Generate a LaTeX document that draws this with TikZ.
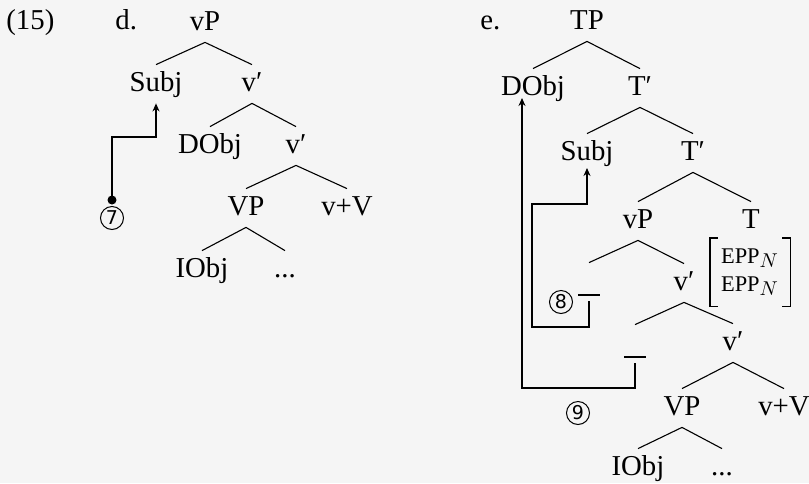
\documentclass[tikz,border=0pt]{standalone}
\usepackage{fontspec}
\setmainfont{Liberation Serif}
\newfontfamily\circfont{DejaVu Sans}
\usetikzlibrary{arrows.meta}
\definecolor{paper}{HTML}{F5F5F5}
% feature EPP with subscript N, small capitals imitated by smaller capitals
\newcommand\eppfeat{{\fontsize{11.2}{12}\selectfont EPP}$_N$}
% the short bar marking a trace position
\newcommand\tracebar{\rule[-3.5pt]{11pt}{1pt}}
\begin{document}
\begin{tikzpicture}[x=0.5pt,y=-0.5pt,
  lab/.style={anchor=base,inner sep=0pt,text height=13pt,text depth=6pt,
    font=\fontsize{14.4}{17}\selectfont},
  plain/.style={inner sep=0pt,font=\fontsize{14.4}{17}\selectfont},
  circ/.style={circle,draw,line width=0.5pt,minimum size=11.5pt,inner sep=0pt,
    font=\circfont\fontsize{9.5}{10}\selectfont},
  branch/.style={line width=0.55pt},
  move/.style={line width=1pt,-{Stealth[length=4pt,width=3.5pt]}},
  bracket/.style={line width=0.9pt}]
\fill[paper] (0,0) rectangle (809,483);
\useasboundingbox (0,0) rectangle (809,483);

% example number and sub-labels
\node[plain,anchor=base west] (exno) at (6,29) {(15)};
\node[plain,anchor=base west] (labd) at (115,29) {d.};
\node[plain,anchor=base west] (labe) at (480,29) {e.};

% tree d
\node[lab] (vPd)   at (205,30)  {vP};
\node[lab] (SubjD) at (156,91)  {Subj};
\node[lab] (vbD1)  at (252,91)  {v′};
\node[lab] (DObjD) at (210,153) {DObj};
\node[lab] (vbD2)  at (296,153) {v′};
\node[lab] (VPD)   at (246,215) {VP};
\node[lab] (vVD)   at (347,215) {v+V};
\node[lab] (IObjD) at (202,277) {IObj};
\node[lab] (dotsD) at (285,277) {...};

\foreach \p/\c in {vPd/SubjD,vPd/vbD1,vbD1/DObjD,vbD1/vbD2,vbD2/VPD,vbD2/vVD,VPD/IObjD,VPD/dotsD}
  \draw[branch] (\p.south) -- (\c.north);

% movement in d
\coordinate (c7) at (112,200);
\fill (c7) circle (2.25pt);
\node[circ] (n7) at (112,218) {7};
\draw[move] (c7) -- ++(0,-63) -| (SubjD.south);

% tree e
\node[lab] (TP)    at (587,29)  {TP};
\node[lab] (DObjE) at (533,95)  {DObj};
\node[lab] (T1)    at (640,95)  {T′};
\node[lab] (SubjE) at (587,160) {Subj};
\node[lab] (T2)    at (693,160) {T′};
\node[lab] (vPE)   at (638,228) {vP};
\node[lab] (TE)    at (751,228) {T};
\node[lab] (t8)    at (589,289) {\tracebar};
\node[lab] (v1E)   at (684,290) {v′};
\node[lab] (t9)    at (635,351) {\tracebar};
\node[lab] (v2E)   at (733,350) {v′};
\node[lab] (VPE)   at (682,415) {VP};
\node[lab] (vVE)   at (784,415) {v+V};
\node[lab] (IObjE) at (638,475) {IObj};
\node[lab] (dotsE) at (722,475) {...};

\foreach \p/\c in {TP/DObjE,TP/T1,T1/SubjE,T1/T2,T2/vPE,T2/TE,vPE/t8,vPE/v1E,v1E/t9,v1E/v2E,v2E/VPE,v2E/vVE,VPE/IObjE,VPE/dotsE}
  \draw[branch] (\p.south) -- (\c.north);

% feature matrix on v'
\node[plain,align=left,minimum width=40pt,minimum height=34pt,
  font=\fontsize{14.4}{14}\selectfont] (feat) at (750,272) {\eppfeat\\\eppfeat};
\draw[bracket] ([xshift=4pt]feat.north west) -- (feat.north west)
  -- (feat.south west) -- ([xshift=4pt]feat.south west);
\draw[bracket] ([xshift=-4pt]feat.north east) -- (feat.north east)
  -- (feat.south east) -- ([xshift=-4pt]feat.south east);

% movement in e
\node[circ] (n8) at (561,302) {8};
\node[circ] (n9) at (578,413) {9};
\coordinate (b8) at (532,327);
\coordinate (m8) at (532,204);
\draw[move] (t8.south) |- (b8) -- (m8) -| ([yshift=-4pt]SubjE.base);
\coordinate (b9) at (522,388);
\draw[move] (t9.south) |- (b9) -- ([xshift=-5.5pt,yshift=-1.5pt]DObjE.base);
\end{tikzpicture}
\end{document}
